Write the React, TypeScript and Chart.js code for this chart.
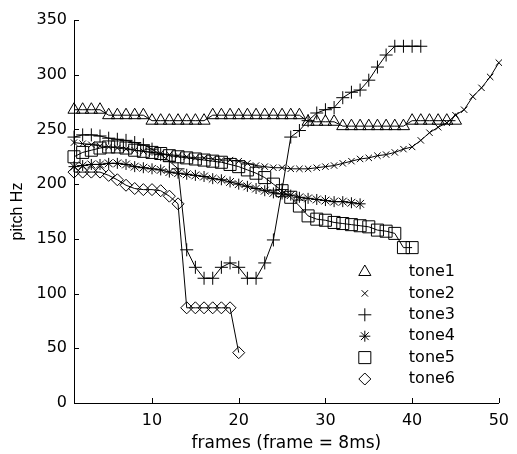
import React, { useEffect, useRef } from 'react';
import { Chart, registerables } from 'chart.js';
import { drawPoint } from 'chart.js/helpers';

Chart.register(...registerables);

const FRAMES = [
  1, 2, 3, 4, 5, 6, 7, 8, 9, 10, 11, 12, 13, 14, 15, 16, 17, 18, 19, 20, 21, 22, 23, 24, 25,
  26, 27, 28, 29, 30, 31, 32, 33, 34, 35, 36, 37, 38, 39, 40, 41, 42, 43, 44, 45, 46, 47, 48, 49, 50,
];

const TONE1 = [
  268, 268, 268, 268, 263, 263, 263, 263, 263, 258, 258, 258, 258, 258, 258, 258, 263, 263, 263, 263,
  263, 263, 263, 263, 263, 263, 263, 257, 257, 257, 257, 253, 253, 253, 253, 253, 253, 253, 253, 258,
  258, 258, 258, 258, 258,
];
const TONE2 = [
  238, 237, 236, 235, 234, 233, 232, 231, 230, 229, 228, 227, 226, 225, 224, 224, 223, 222, 222, 221,
  219, 217, 216, 215, 215, 214, 214, 214, 215, 216, 217, 219, 221, 223, 224, 226, 227, 229, 232, 234,
  240, 247, 252, 256, 263, 268, 280, 288, 298, 311,
];
const TONE3 = [
  243, 245, 245, 244, 242, 241, 240, 238, 236, 232, 227, 221, 214, 140, 124, 114, 114, 124, 128, 124,
  114, 114, 128, 149, 195, 243, 249, 258, 265, 268, 270, 279, 284, 286, 295, 307, 318, 326, 326, 326,
  326,
];
const TONE4 = [
  216, 217, 218, 218, 219, 219, 218, 216, 215, 214, 213, 211, 210, 209, 208, 207, 205, 204, 202, 200,
  198, 196, 194, 192, 191, 190, 188, 187, 186, 185, 184, 184, 183, 182,
];
const TONE5 = [
  225, 229, 231, 233, 234, 234, 233, 231, 230, 229, 228, 226, 225, 224, 223, 222, 221, 220, 218, 216,
  213, 210, 206, 200, 194, 188, 180, 171, 168, 167, 165, 164, 163, 162, 161, 158, 157, 155, 142, 142,
];
const TONE6 = [211, 211, 211, 211, 208, 204, 199, 196, 195, 195, 194, 189, 182, 87, 87, 87, 87, 87, 87, 46];

const SERIES_NAMES = ['tone1', 'tone2', 'tone3', 'tone4', 'tone5', 'tone6'];
const SERIES_VALUES = [TONE1, TONE2, TONE3, TONE4, TONE5, TONE6];
const X_TICKS = [10, 20, 30, 40, 50];
const Y_TICKS = [0, 50, 100, 150, 200, 250, 300, 350];

const X_TITLE = 'frames (frame = 8ms)';
const Y_TITLE = 'pitch Hz';

const MARKERS = [
  { style: 'triangle', radius: 7 },
  { style: 'crossRot', radius: 4.5 },
  { style: 'cross', radius: 6.5 },
  { style: 'star', radius: 5.5 },
  { style: 'rect', radius: 8.5 },
  { style: 'rectRot', radius: 6 },
];

const FONT = '"DejaVu Sans", sans-serif';

const inwardTicks = {
  id: 'inwardTicks',
  afterDraw(chart: any) {
    const { ctx } = chart;
    const x = chart.scales.x;
    const y = chart.scales.y;
    ctx.save();
    ctx.strokeStyle = '#000';
    ctx.lineWidth = 1;
    ctx.beginPath();
    x.ticks.forEach((t: any) => {
      const px = Math.round(x.getPixelForValue(t.value)) + 0.5;
      ctx.moveTo(px, y.bottom);
      ctx.lineTo(px, y.bottom - 5);
    });
    y.ticks.forEach((t: any) => {
      const py = Math.round(y.getPixelForValue(t.value)) + 0.5;
      ctx.moveTo(x.left, py);
      ctx.lineTo(x.left + 5, py);
    });
    ctx.stroke();
    ctx.restore();
  },
};

const toneLegend = {
  id: 'toneLegend',
  afterDraw(chart: any) {
    const { ctx, chartArea } = chart;
    const markerX = chartArea.right - 134;
    const textX = chartArea.right - 90;
    const startY = chartArea.bottom - 131;
    const step = 21.4;
    ctx.save();
    chart.data.datasets.forEach((ds: any, i: number) => {
      const cy = startY + i * step;
      ctx.strokeStyle = '#000';
      ctx.fillStyle = 'rgba(0,0,0,0)';
      ctx.lineWidth = 1;
      drawPoint(ctx, { pointStyle: ds.pointStyle, radius: ds.pointRadius, borderWidth: 1, rotation: 0 } as any, markerX, cy);
      ctx.fillStyle = '#000';
      ctx.font = `16px ${FONT}`;
      ctx.textBaseline = 'middle';
      ctx.textAlign = 'left';
      ctx.fillText(ds.label, textX, cy);
    });
    ctx.restore();
  },
};

export default function App() {
  const ref = useRef<HTMLCanvasElement | null>(null);

  useEffect(() => {
    document.body.style.margin = '0';
    const canvas = ref.current;
    if (!canvas) return;
    const datasets = SERIES_VALUES.map((vals, i) => ({
      label: SERIES_NAMES[i],
      data: vals.map((v, j) => ({ x: FRAMES[j], y: v })),
      borderColor: '#000',
      borderWidth: 1,
      backgroundColor: 'rgba(0,0,0,0)',
      pointStyle: MARKERS[i].style,
      pointRadius: MARKERS[i].radius,
      pointBorderColor: '#000',
      pointBackgroundColor: 'rgba(0,0,0,0)',
      pointBorderWidth: 1,
      tension: 0,
      fill: false,
      clip: false,
    }));
    const chart = new Chart(canvas, {
      type: 'line',
      data: { datasets } as any,
      options: {
        animation: false,
        responsive: false,
        devicePixelRatio: 1,
        layout: { padding: { top: 20, right: 10, left: 0, bottom: 0 } },
        plugins: { legend: { display: false }, tooltip: { enabled: false } },
        scales: {
          x: {
            type: 'linear',
            min: 1,
            max: 50,
            afterFit: (s: any) => {
              s.height = 51;
            },
            afterBuildTicks: (s: any) => {
              s.ticks = X_TICKS.map((v) => ({ value: v }));
            },
            grid: { display: true, drawOnChartArea: false, drawTicks: false },
            border: { display: true, color: '#000', width: 1 },
            ticks: { color: '#000', font: { family: FONT, size: 16 }, padding: 8, maxRotation: 0 },
            title: {
              display: true,
              text: X_TITLE,
              color: '#000',
              font: { family: FONT, size: 17 },
              padding: { top: 0, bottom: 0 },
            },
          },
          y: {
            type: 'linear',
            min: 0,
            max: 350,
            afterFit: (s: any) => {
              s.width = 74;
            },
            afterBuildTicks: (s: any) => {
              s.ticks = Y_TICKS.map((v) => ({ value: v }));
            },
            grid: { display: true, drawOnChartArea: false, drawTicks: false },
            border: { display: true, color: '#000', width: 1 },
            ticks: { color: '#000', font: { family: FONT, size: 16 }, padding: 7 },
            title: {
              display: true,
              text: Y_TITLE,
              color: '#000',
              font: { family: '"Liberation Sans Narrow", "Liberation Sans", Arial, sans-serif', size: 16 },
              padding: { top: 8, bottom: 0 },
            },
          },
        },
      },
      plugins: [inwardTicks, toneLegend],
    });
    return () => chart.destroy();
  }, []);

  return (
    <div style={{ width: 517, height: 454, background: '#fff' }}>
      <canvas ref={ref} width={517} height={454} style={{ display: 'block' }} />
    </div>
  );
}
